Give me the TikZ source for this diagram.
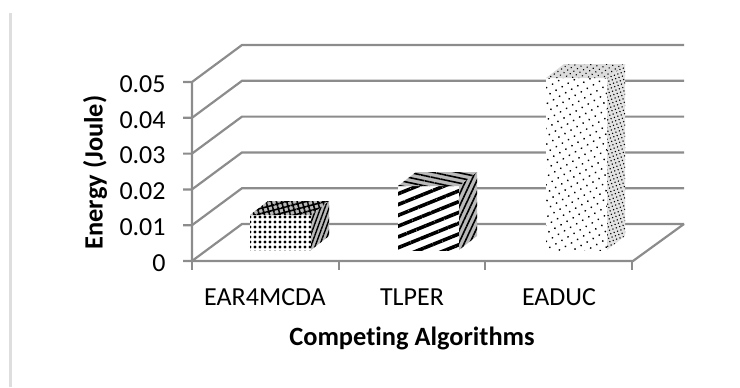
\documentclass[tikz,border=0pt]{standalone}
\usepackage{fontspec}
\setmainfont{Carlito}[Ligatures=NoCommon]
\usepackage{tikz}
\usetikzlibrary{patterns.meta,positioning}
\definecolor{gridgr}{RGB}{140,140,140}
\definecolor{sidegr}{RGB}{185,185,185}
\definecolor{framegr}{RGB}{222,222,222}

\begin{document}
\begin{tikzpicture}[x=0.5pt, y=0.5pt,
        grid/.style={draw=gridgr, line width=1.1pt},
        lbl/.style={font=\fontsize{13}{15}\selectfont, inner sep=1pt},
        ttl/.style={font=\bfseries\fontsize{13.2}{15}\selectfont, inner sep=1pt},
        face/.style={fill=white, postaction={pattern={#1}}},
        shade/.style={fill=sidegr, postaction={pattern={#1}}}]
            \useasboundingbox (0,0) rectangle (740,387);
            \draw[framegr, line width=1.5pt] (10,0) -- (10,374);

            % walls, grid and value axis
            \foreach \k/\v in {0/0, 1/0.01, 2/0.02, 3/0.03, 4/0.04, 5/0.05} {
                \draw[grid] (183,126+35.8*\k) -- (192,126+35.8*\k) -- (242,163+35.8*\k) -- (684,163+35.8*\k);
                \node[lbl, anchor=east] (y\k) at (168,124+35.8*\k) {\v};
            }
            \draw[grid] (192,305) -- (192,126) -- (633,126) -- (684,163);
            \foreach \x in {192,338.7,485.3,632}
                \draw[grid] (\x,126) -- (\x,117);

            % EAR4MCDA
            \fill[face={Dots[distance=2.5pt, radius=0.85pt]}] (250,137) rectangle (311,172);
            \fill[shade={Lines[angle=70, distance=2pt, line width=0.7pt]}] (311,137) -- (329,151) -- (329,186) -- (311,172) -- cycle;
            \fill[shade={Hatch[angle=15, distance=2.5pt, line width=0.8pt]}] (250,172) -- (268,186) -- (329,186) -- (311,172) -- cycle;

            % TLPER
            \fill[face={Lines[angle=22, distance=5pt, line width=1.8pt]}] (398,137) rectangle (459,201);
            \fill[shade={Lines[angle=65, distance=2.5pt, line width=0.8pt]}] (459,137) -- (477,151) -- (477,215) -- (459,201) -- cycle;
            \fill[shade={Lines[angle=-12, distance=2.5pt, line width=0.8pt]}] (398,201) -- (416,215) -- (477,215) -- (459,201) -- cycle;

            % EADUC
            \fill[face={Dots[distance=3.5pt, radius=0.5pt, angle=30]}] (546,137) rectangle (607,309);
            \fill[fill=white!60!sidegr, postaction={pattern={Dots[distance=1.8pt, radius=0.4pt, angle=20]}}] (607,137) -- (625,151) -- (625,323) -- (607,309) -- cycle;
            \fill[fill=white!50!sidegr, postaction={pattern={Dots[distance=2.2pt, radius=0.4pt, angle=35]}}] (546,309) -- (564,323) -- (625,323) -- (607,309) -- cycle;

            \node[lbl] (cat1) at (265,90) {EAR4MCDA};
            \node[lbl] (cat2) at (412,90) {TLPER};
            \node[lbl] (cat3) at (559,90) {EADUC};
            \node[ttl] (xtitle) at (412,49) {Competing Algorithms};
            \node[ttl, rotate=90] (ytitle) at (95,214.5) {Energy (Joule)};
        \end{tikzpicture}
\end{document}
